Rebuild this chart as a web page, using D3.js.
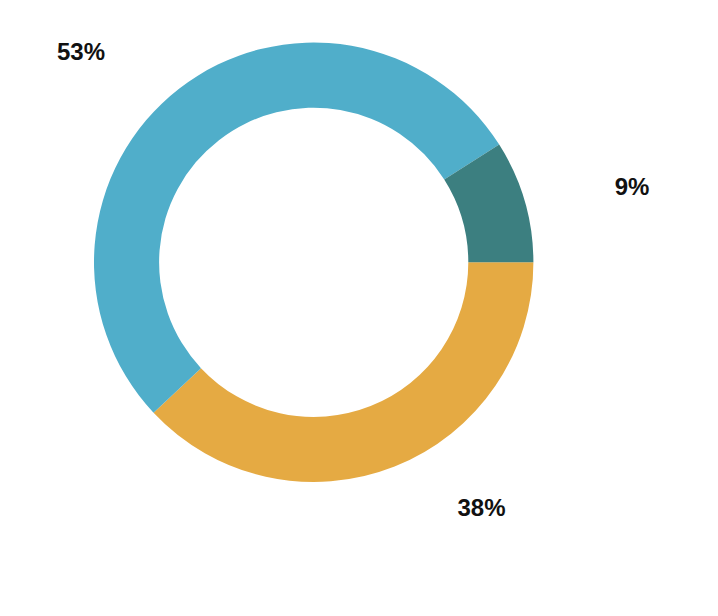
<!DOCTYPE html>
<html>
<head>
<meta charset="utf-8">
<script src="https://cdn.jsdelivr.net/npm/d3@7"></script>
<style>
  html, body { margin: 0; padding: 0; background: #ffffff; }
  svg { display: block; }
</style>
</head>
<body>
<svg id="chart" width="718" height="616"></svg>
<script>
// Data
const categories = ["Orange", "Blue", "Teal"];
const values = [38, 53, 9];
const labels = ["38%", "53%", "9%"];
const colors = ["#E5AA43", "#50AECA", "#3C7F80"];

const width = 718, height = 616;
const cx = 313.7, cy = 262.3;
const outerR = 219.7, innerR = 154.6;
const labelR = 265.5, labelPush = 46;

const svg = d3.select("#chart");
const g = svg.append("g").attr("transform", `translate(${cx},${cy})`);

const pie = d3.pie()
  .value(d => d.value)
  .sort(null)
  .startAngle(Math.PI / 2)
  .endAngle(Math.PI / 2 + 2 * Math.PI);

const data = categories.map((c, i) => ({ name: c, value: values[i], label: labels[i], color: colors[i] }));
const arcs = pie(data);

const arc = d3.arc().innerRadius(innerR).outerRadius(outerR);

g.selectAll("path.slice")
  .data(arcs)
  .join("path")
  .attr("class", "slice")
  .attr("d", arc)
  .attr("fill", d => d.data.color);

g.selectAll("text.lbl")
  .data(arcs)
  .join("text")
  .attr("class", "lbl")
  .each(function(d) {
    const mid = (d.startAngle + d.endAngle) / 2;
    const s = Math.sin(mid), c = Math.cos(mid);
    const right = s >= 0;
    d3.select(this)
      .attr("x", labelR * s + (right ? labelPush : -labelPush))
      .attr("y", -labelR * c)
      .attr("dy", "0.3em")
      .attr("text-anchor", right ? "start" : "end");
  })
  .attr("font-family", "'Liberation Sans', Arial, sans-serif")
  .attr("font-weight", "bold")
  .attr("font-size", 24)
  .attr("fill", "#111111")
  .text(d => d.data.label);
</script>
</body>
</html>
